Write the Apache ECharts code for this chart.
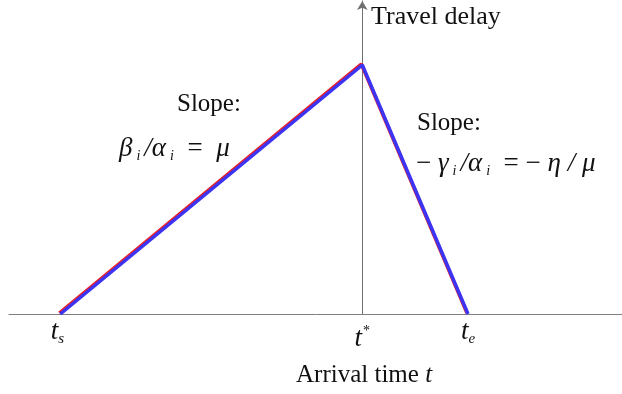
<!DOCTYPE html>
<html>
<head>
<meta charset="utf-8">
<script src="https://cdn.jsdelivr.net/npm/echarts@6/dist/echarts.min.js"></script>
<style>
  html, body { margin: 0; padding: 0; background: #fff; }
  #chart { width: 622px; height: 394px; }
</style>
</head>
<body>
<div id="chart"></div>
<script>
// arrival times (t* at 0) and travel delay
var arrivalTimes = [-10, 0, 3.5];
var delayValues = [0, 10, 0];
var tickValues = [-10, 0, 3.5];
var tickNames = ['ts', 'tstar', 'te'];

var serif = '"Liberation Serif", "DejaVu Serif", serif';

var chartDom = document.getElementById('chart');
var myChart = echarts.init(chartDom);

var lineData = [];
for (var i = 0; i < arrivalTimes.length; i++) {
    lineData.push([arrivalTimes[i], delayValues[i]]);
}

var mathRich = {
    g: { fontFamily: serif, fontStyle: 'italic', fontSize: 27, fill: '#111', lineHeight: 30 },
    n: { fontFamily: serif, fontSize: 27, fill: '#111', lineHeight: 30 },
    s: { fontFamily: serif, fontStyle: 'italic', fontSize: 14, fill: '#111', lineHeight: 12, verticalAlign: 'bottom' },
    sp: { fontSize: 10, width: 4 }
};

var option = {
    animation: false,
    backgroundColor: '#fff',
    grid: {
        left: 9,
        right: 0,
        top: 1,
        bottom: 80
    },
    xAxis: {
        type: 'value',
        min: -11.7,
        max: 8.6,
        splitLine: { show: false },
        axisLine: {
            show: true,
            lineStyle: { color: '#7f7f7f', width: 1 }
        },
        axisTick: { show: false },
        axisLabel: {
            show: true,
            customValues: tickValues,
            showMinLabel: true,
            showMaxLabel: true,
            margin: 3,
            formatter: function (value) {
                var idx = tickValues.indexOf(value);
                var name = tickNames[idx];
                if (name === 'ts') return '{t|t}{sub|s}{pad| }';
                if (name === 'te') return '{t|t}{sub|e}';
                return '{tl|t}{sup|*}';
            },
            rich: {
                t: { fontFamily: serif, fontStyle: 'italic', fontSize: 27, color: '#111', lineHeight: 30 },
                tl: { fontFamily: serif, fontStyle: 'italic', fontSize: 27, color: '#111', lineHeight: 30, padding: [13, 0, 0, 0] },
                sub: { fontFamily: serif, fontStyle: 'italic', fontSize: 15, color: '#111', lineHeight: 12, verticalAlign: 'bottom' },
                sup: { fontFamily: serif, fontSize: 14, color: '#111', lineHeight: 14, verticalAlign: 'top', padding: [7, 0, 0, 1] },
                pad: { fontSize: 8, width: 6 }
            }
        }
    },
    yAxis: {
        type: 'value',
        min: 0,
        max: 12.57,
        splitLine: { show: false },
        axisLabel: { show: false },
        axisTick: { show: false },
        axisLine: {
            show: true,
            onZero: true,
            symbol: ['none', 'arrow'],
            symbolSize: [8, 9],
            lineStyle: { color: '#6f6f6f', width: 1 }
        }
    },
    series: [
        {
            type: 'line',
            data: lineData,
            showSymbol: false,
            lineStyle: {
                color: '#3c34f2',
                width: 3.5,
                shadowColor: '#e8202a',
                shadowBlur: 0,
                shadowOffsetX: -1,
                shadowOffsetY: -1
            }
        }
    ],
    graphic: [
        {
            type: 'text', left: 371, top: 4,
            style: { text: 'Travel delay', font: '26px ' + serif, fill: '#111' }
        },
        {
            type: 'text', left: 296, top: 363,
            style: {
                text: '{n|Arrival time }{i|t}',
                rich: {
                    n: { fontFamily: serif, fontSize: 25, fill: '#111' },
                    i: { fontFamily: serif, fontStyle: 'italic', fontSize: 25, fill: '#111' }
                }
            }
        },
        {
            type: 'text', left: 177, top: 92,
            style: { text: 'Slope:', font: '25px ' + serif, fill: '#111' }
        },
        {
            type: 'text', left: 119, top: 135,
            style: {
                text: '{g|β}{sp| }{s|i}{sp| }{g|/α}{sp| }{s|i}{n|  =  }{g|μ}',
                rich: mathRich
            }
        },
        {
            type: 'text', left: 417, top: 111,
            style: { text: 'Slope:', font: '25px ' + serif, fill: '#111' }
        },
        {
            type: 'text', left: 416, top: 150,
            style: {
                text: '{n|− }{g|γ}{sp| }{s|i}{sp| }{g|/α}{sp| }{s|i}{n|  = − }{g|η / μ}',
                rich: mathRich
            }
        }
    ]
};

myChart.setOption(option);
</script>
</body>
</html>
